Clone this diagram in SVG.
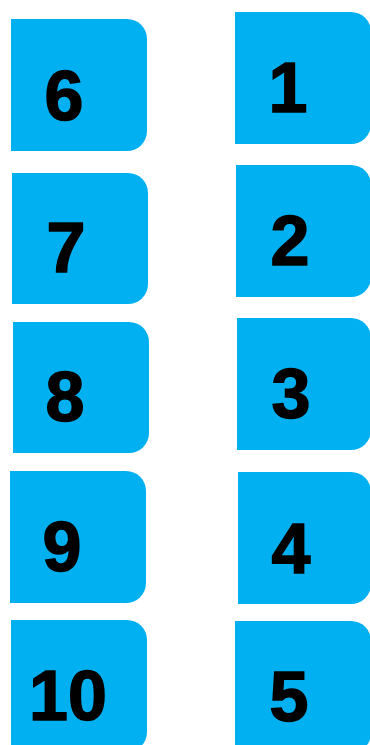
<svg xmlns="http://www.w3.org/2000/svg" width="370" height="745" viewBox="0 0 370 745">
<style>
.box{fill:#00B0F0;}
.num{font-family:"Liberation Sans",Arial,sans-serif;font-weight:bold;font-size:70px;fill:#000;stroke:#000;stroke-width:1.5;text-anchor:middle;}
</style>
<rect width="370" height="745" fill="#fff"/>
<g id="node6"><path class="box" d="M11,19 H127 A20,20 0 0 1 147,39 V131 A20,20 0 0 1 127,151 H11 Z"/><text class="num" x="64" y="120">6</text></g>
<g id="node7"><path class="box" d="M12,173 H128 A20,20 0 0 1 148,193 V284 A20,20 0 0 1 128,304 H12 Z"/><text class="num" x="66" y="272">7</text></g>
<g id="node8"><path class="box" d="M13,322 H129 A20,20 0 0 1 149,342 V433 A20,20 0 0 1 129,453 H13 Z"/><text class="num" x="65" y="421">8</text></g>
<g id="node9"><path class="box" d="M10,471 H126 A20,20 0 0 1 146,491 V583 A20,20 0 0 1 126,603 H10 Z"/><text class="num" x="62" y="571">9</text></g>
<g id="node10"><path class="box" d="M11,620 H127 A20,20 0 0 1 147,640 V732 A20,20 0 0 1 127,752 H11 Z"/><text class="num" x="68" y="720">10</text></g>
<g id="node1"><path class="box" d="M235,12 H351 A20,20 0 0 1 371,32 V124 A20,20 0 0 1 351,144 H235 Z"/><text class="num" x="288" y="112">1</text></g>
<g id="node2"><path class="box" d="M236,165 H351 A20,20 0 0 1 371,185 V277 A20,20 0 0 1 351,297 H236 Z"/><text class="num" x="290" y="265">2</text></g>
<g id="node3"><path class="box" d="M237,318 H351 A20,20 0 0 1 371,338 V430 A20,20 0 0 1 351,450 H237 Z"/><text class="num" x="291" y="418">3</text></g>
<g id="node4"><path class="box" d="M238,472 H351 A20,20 0 0 1 371,492 V584 A20,20 0 0 1 351,604 H238 Z"/><text class="num" x="291" y="573">4</text></g>
<g id="node5"><path class="box" d="M235,621 H351 A20,20 0 0 1 371,641 V733 A20,20 0 0 1 351,753 H235 Z"/><text class="num" x="289" y="721">5</text></g>
<g id="connectors"></g>
</svg>
